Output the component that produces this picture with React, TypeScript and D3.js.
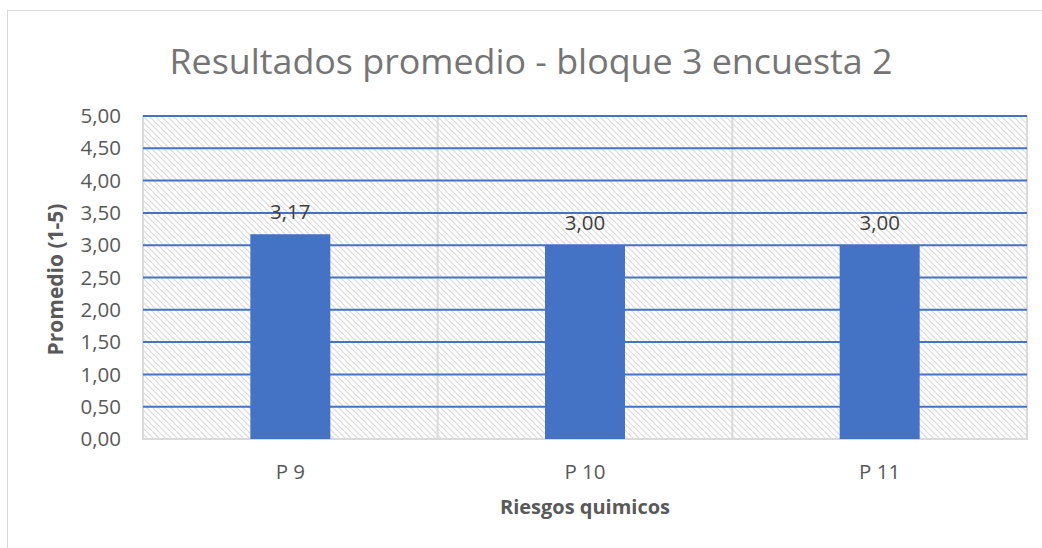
import { useEffect, useRef } from 'react';
import * as d3 from 'd3';

const categories = ['P 9', 'P 10', 'P 11'];
const values = [3.17, 3.0, 3.0];
const yTicks = [0, 0.5, 1, 1.5, 2, 2.5, 3, 3.5, 4, 4.5, 5];

const title = 'Resultados promedio - bloque 3 encuesta 2';
const xTitle = 'Riesgos quimicos';
const yTitle = 'Promedio (1-5)';

const fmt = (v: number) => v.toFixed(2).replace('.', ',');

export default function App() {
  const svgRef = useRef<SVGSVGElement>(null);
  const width = 1042;
  const height = 548;

  useEffect(() => {
    if (!svgRef.current) return;
    const svg = d3.select(svgRef.current);
    svg.selectAll('*').remove();

    const font = 'Open Sans, Liberation Sans, sans-serif';
    const margin = { top: 116, right: 15, bottom: 109, left: 143 };
    const innerW = width - margin.left - margin.right;
    const innerH = height - margin.top - margin.bottom;

    // hatch pattern
    const defs = svg.append('defs');
    const pat = defs.append('pattern')
      .attr('id', 'hatch')
      .attr('patternUnits', 'userSpaceOnUse')
      .attr('width', 6)
      .attr('height', 6);
    pat.append('rect').attr('width', 6).attr('height', 6).attr('fill', '#ffffff');
    pat.append('path')
      .attr('d', 'M-1,-1 L7,7 M-4,2 L2,8 M4,-2 L8,2')
      .attr('stroke', '#dadada')
      .attr('stroke-width', 1.2);

    // outer chart border
    svg.append('rect')
      .attr('x', 7.5).attr('y', 10.5)
      .attr('width', 1040).attr('height', 560)
      .attr('fill', '#fff')
      .attr('stroke', '#d9d9d9');

    svg.append('text')
      .attr('x', 531)
      .attr('y', 74)
      .attr('text-anchor', 'middle')
      .attr('fill', '#757575')
      .style('font-family', font)
      .style('font-size', '35px')
      .attr('textLength', 723)
      .attr('lengthAdjust', 'spacingAndGlyphs')
      .text(title);

    const g = svg.append('g').attr('transform', `translate(${margin.left},${margin.top})`);

    const x = d3.scaleBand().domain(categories).range([0, innerW]).paddingInner(0).paddingOuter(0);
    const y = d3.scaleLinear().domain([0, 5]).range([innerH, 0]);

    g.append('rect')
      .attr('width', innerW).attr('height', innerH)
      .attr('fill', 'url(#hatch)')
      .attr('stroke', '#d9d9d9')
      .attr('stroke-width', 2);

    // category separators
    g.selectAll('.sep')
      .data(categories.slice(1))
      .enter()
      .append('line')
      .attr('x1', d => x(d)!).attr('x2', d => x(d)!)
      .attr('y1', 0).attr('y2', innerH)
      .attr('stroke', '#d9d9d9')
      .attr('stroke-width', 2);

    // gridlines
    g.selectAll('.grid')
      .data(yTicks.filter(t => t > 0))
      .enter()
      .append('line')
      .attr('x1', 0).attr('x2', innerW)
      .attr('y1', d => y(d)).attr('y2', d => y(d))
      .attr('stroke', '#4472c4')
      .attr('stroke-width', 2);

    // y tick labels
    g.selectAll('.ytick')
      .data(yTicks)
      .enter()
      .append('text')
      .attr('x', -22)
      .attr('y', d => y(d))
      .attr('dy', '0.35em')
      .attr('text-anchor', 'end')
      .attr('fill', '#595959')
      .style('font-family', font)
      .style('font-size', '20.5px')
      .text(d => fmt(d));

    const barW = 80;
    g.selectAll('.bar')
      .data(values)
      .enter()
      .append('rect')
      .attr('x', (d, i) => x(categories[i])! + x.bandwidth() / 2 - barW / 2)
      .attr('y', d => y(d))
      .attr('width', barW)
      .attr('height', d => innerH - y(d))
      .attr('fill', '#4472c4');

    g.selectAll('.lbl')
      .data(values)
      .enter()
      .append('text')
      .attr('x', (d, i) => x(categories[i])! + x.bandwidth() / 2)
      .attr('y', d => y(d) - 15)
      .attr('text-anchor', 'middle')
      .attr('fill', '#404040')
      .style('font-family', font)
      .style('font-size', '20.5px')
      .text(d => fmt(d));

    g.selectAll('.xtick')
      .data(categories)
      .enter()
      .append('text')
      .attr('x', d => x(d)! + x.bandwidth() / 2)
      .attr('y', innerH + 40)
      .attr('text-anchor', 'middle')
      .attr('fill', '#595959')
      .style('font-family', font)
      .style('font-size', '20.5px')
      .text(d => d);

    g.append('text')
      .attr('x', innerW / 2)
      .attr('y', innerH + 75)
      .attr('text-anchor', 'middle')
      .attr('fill', '#595959')
      .style('font-family', font)
      .style('font-size', '20px')
      .style('font-weight', 'bold')
      .text(xTitle);

    svg.append('text')
      .attr('transform', `translate(63,${margin.top + innerH / 2 + 2}) rotate(-90)`)
      .attr('text-anchor', 'middle')
      .attr('fill', '#595959')
      .style('font-family', font)
      .style('font-size', '21px')
      .style('font-weight', 'bold')
      .text(yTitle);
  }, []);

  return (
    <svg
      ref={svgRef}
      width={width}
      height={height}
      style={{ position: 'absolute', left: 0, top: 0, display: 'block' }}
    />
  );
}
